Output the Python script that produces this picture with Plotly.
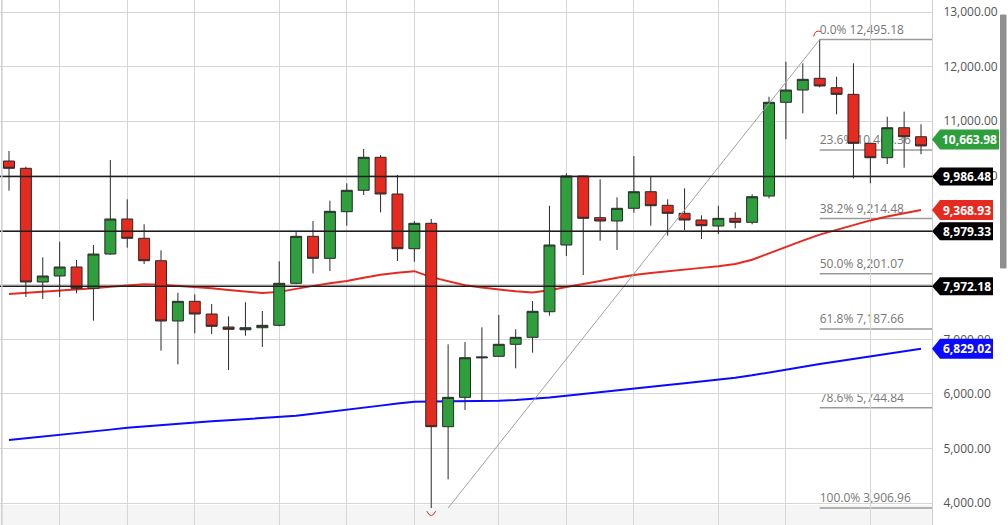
import plotly.graph_objects as go

# ---------------- data ----------------
opens = [10269, 10135, 8051, 8161, 8326, 7935, 8564, 9206, 8852, 8441,
         7336, 7697, 7464, 7226, 7176, 7213, 7257, 8027, 8888, 8485,
         9340, 9732, 10337, 9664, 8661, 9127, 5399, 5937, 6660, 6689,
         6909, 7037, 7506, 8729, 9994, 9230, 9169, 9402, 9706, 9457,
         9310, 9187, 9077, 9218, 9145, 9627, 11345, 11570, 11785, 11612,
         11491, 10593, 10329, 10879, 10714]
highs = [10452, 10164, 8503, 8790, 8454, 8729, 10287, 9567, 9109, 8632,
         7855, 7825, 7648, 7422, 7679, 7519, 8430, 8986, 9169, 9541,
         9860, 10489, 10379, 10012, 9169, 9206, 6909, 6951, 7221, 7446,
         7184, 7703, 9449, 10043, 10000, 9933, 9603, 10360, 9990, 9567,
         9768, 9273, 9449, 9328, 9658, 11447, 12089, 12060, 12495.18, 11814,
         12060, 10600, 11081, 11173, 10942]
lows = [9724, 7776, 7739, 7776, 7843, 7342, 8550, 8680, 8381, 6792,
        6542, 7110, 7098, 6438, 7067, 6859, 7240, 8010, 8210, 8253,
        9083, 9646, 9328, 8436, 8423, 3906.96, 4434, 5705, 5851, 6680,
        6469, 6755, 7433, 8527, 8179, 8808, 8637, 9321, 9083, 8900,
        9004, 8839, 8931, 9035, 9109, 9585, 10667, 11143, 11620, 11125,
        9952, 9860, 10214, 10146, 10392]
closes = [10135, 8051, 8161, 8326, 7935, 8564, 9206, 8852, 8441, 7336,
          7697, 7464, 7239, 7184, 7213, 7257, 8027, 8888, 8485, 9347,
          9732, 10337, 9664, 8661, 9127, 5399, 5937, 6663, 6675, 6909,
          7037, 7514, 8729, 9994, 9218, 9169, 9402, 9706, 9449, 9310,
          9187, 9083, 9218, 9145, 9614, 11345, 11570, 11766, 11644, 11491,
          10593, 10329, 10879, 10714, 10545]

ma_red = [7831, 7850, 7870, 7890, 7910, 7935, 7965, 7990, 8010, 8000,
          7980, 7960, 7935, 7905, 7875, 7850, 7870, 7930, 7980, 8030,
          8070, 8130, 8185, 8220, 8250, 8140, 8060, 7990, 7950, 7915,
          7880, 7860, 7900, 7960, 8010, 8070, 8130, 8180, 8215, 8250,
          8280, 8310, 8340, 8380, 8460, 8580, 8690, 8810, 8920, 9010,
          9100, 9180, 9250, 9310, 9368.93]
ma_blue = [5155, 5185, 5215, 5246, 5280, 5310, 5345, 5380, 5405, 5430,
           5455, 5479, 5497, 5515, 5535, 5553, 5571, 5600, 5635, 5670,
           5705, 5745, 5785, 5825, 5857, 5860, 5863, 5866, 5869, 5875,
           5890, 5906, 5935, 5965, 6000, 6035, 6070, 6102, 6135, 6165,
           6195, 6225, 6255, 6295, 6340, 6395, 6450, 6500, 6550, 6595,
           6640, 6685, 6730, 6775, 6829.02]

month_starts = [3, 7, 11, 16, 20, 24, 29, 33, 37, 42, 46, 51]
y_ticks = [4000, 5000, 6000, 7000, 8000, 9000, 10000, 11000, 12000, 13000]

support_levels = [9986.48, 8979.33, 7972.18]
last_price = 10663.98

fib_start_idx, fib_end_idx = 26, 48
fib_low, fib_high = 3906.96, 12495.18
fib_ratios = [0.0, 0.236, 0.382, 0.5, 0.618, 0.786, 1.0]
fib_values = [12495.18, 10468.36, 9214.48, 8201.07, 7187.66, 5744.84, 3906.96]

low_idx, high_idx = 25, 48

# ---------------- style ----------------
GREEN = "#2f9e3c"
RED = "#e52b1f"
BLUE = "#0a0aff"
FONT = "Open Sans"
W, H = 1008, 525
PLOT_W = 932
X_RANGE = [-0.533, 54.65]
Y_RANGE = [3597, 13220]
px_per_val = H / (Y_RANGE[1] - Y_RANGE[0])

idx = list(range(len(opens)))

fig = go.Figure()

# moving averages on main axes (drawn under candles)
fig.add_trace(go.Scatter(x=idx, y=ma_blue, mode="lines",
                         line=dict(color=BLUE, width=2), hoverinfo="skip"))
fig.add_trace(go.Scatter(x=idx, y=ma_red, mode="lines",
                         line=dict(color=RED, width=2), hoverinfo="skip"))

# candles on overlay axes
fig.add_trace(go.Candlestick(
    x=idx, open=opens, high=highs, low=lows, close=closes,
    xaxis="x2", yaxis="y2",
    increasing=dict(fillcolor=GREEN, line=dict(color="#2a2a2a", width=1)),
    decreasing=dict(fillcolor=RED, line=dict(color="#2a2a2a", width=1)),
    whiskerwidth=0, showlegend=False))

shapes = []

# fib level lines with labels (below traces)
for r, v in zip(fib_ratios, fib_values):
    shapes.append(dict(
        type="line", xref="x", yref="y", x0=fib_end_idx, x1=X_RANGE[1],
        y0=v, y1=v, layer="below", line=dict(color="#9a9a9a", width=1.5),
        label=dict(text=f"{r*100:.1f}% {v:,.2f}", textposition="start",
                   xanchor="left", yanchor="bottom", padding=1,
                   font=dict(family=FONT, size=12, color="#777777"))))

# fib diagonal
shapes.append(dict(type="line", xref="x", yref="y",
                   x0=fib_start_idx, y0=fib_low, x1=fib_end_idx, y1=fib_high,
                   layer="above", line=dict(color="#a0a0a0", width=1)))

# support / resistance lines
for v in support_levels:
    shapes.append(dict(type="line", xref="paper", yref="y", x0=0, x1=1,
                       y0=v, y1=v, layer="above",
                       line=dict(color="#1e1e1e", width=1.5)))

# arcs marking swing low / high
shapes.append(dict(type="path", xref="x", yref="y", xsizemode="pixel",
                   ysizemode="pixel", xanchor=low_idx, yanchor=fib_low,
                   path="M -4.5,-3 Q 0,-12 4.5,-3", layer="above",
                   line=dict(color=RED, width=1)))
shapes.append(dict(type="path", xref="x", yref="y", xsizemode="pixel",
                   ysizemode="pixel", xanchor=high_idx, yanchor=fib_high,
                   path="M -6,3 Q -5,10 1,8", layer="above",
                   line=dict(color=RED, width=1)))

annotations = []


def price_tag(value, color, right_px, half_h):
    hv = half_h / px_per_val
    x_tip = 932 / PLOT_W
    x_sh = 940 / PLOT_W
    x_r = right_px / PLOT_W
    path = (f"M {x_tip},{value} L {x_sh},{value + hv} L {x_r},{value + hv} "
            f"L {x_r},{value - hv} L {x_sh},{value - hv} Z")
    shapes.append(dict(type="path", xref="paper", yref="y", path=path,
                       fillcolor=color, line=dict(color=color, width=0),
                       layer="above"))
    annotations.append(dict(xref="paper", yref="y",
                            x=((940 + right_px) / 2) / PLOT_W, y=value,
                            text=f"<b>{value:,.2f}</b>", showarrow=False,
                            xanchor="center", yanchor="middle",
                            font=dict(family=FONT, size=12, color="white")))


price_tag(last_price, GREEN, 999, 10)
for v in support_levels:
    price_tag(v, "#000000", 993, 9)
price_tag(ma_red[-1], RED, 993, 10)
price_tag(ma_blue[-1], BLUE, 993, 10)

# left border, bottom fade
shapes.append(dict(type="line", xref="paper", yref="paper", x0=0.002, x1=0.002,
                   y0=0, y1=1, line=dict(color="#cfcfcf", width=1.5), layer="above"))
shapes.append(dict(type="rect", xref="paper", yref="paper", x0=0, x1=1,
                   y0=0, y1=20 / H, fillcolor="rgba(200,200,200,0.18)",
                   line=dict(width=0), layer="below"))

# scrollbar thumb at right edge (path in paper coords)
sx0, sx1 = 1000.5 / PLOT_W, 1006 / PLOT_W
sy0, sy1 = 1 - 268 / H, 1 - 15 / H
shapes.append(dict(type="path", xref="paper", yref="paper",
                   path=f"M {sx0},{sy0} L {sx1},{sy0} L {sx1},{sy1} L {sx0},{sy1} Z",
                   fillcolor="#8f8f8f", line=dict(color="#8f8f8f", width=1),
                   layer="above"))

fig.update_layout(
    width=W, height=H,
    margin=dict(l=0, r=W - PLOT_W, t=0, b=0),
    paper_bgcolor="white", plot_bgcolor="white",
    showlegend=False,
    boxgap=0.35, boxgroupgap=0,
    font=dict(family=FONT, size=12, color="#555555"),
    xaxis=dict(range=X_RANGE, tickvals=month_starts, showticklabels=False,
               showgrid=True, gridcolor="#d6d6d6", gridwidth=1,
               zeroline=False, showline=False, fixedrange=True),
    yaxis=dict(range=Y_RANGE, side="right", tickvals=y_ticks,
               tickformat=",.2f", showgrid=True, gridcolor="#d6d6d6",
               gridwidth=1, zeroline=False, showline=True, linecolor="#cfcfcf",
               linewidth=1, ticks="", ticklabelstandoff=8,
               tickfont=dict(family=FONT, size=12, color="#555555")),
    xaxis2=dict(range=X_RANGE, overlaying="x", visible=False,
                rangeslider=dict(visible=False)),
    yaxis2=dict(range=Y_RANGE, overlaying="y", visible=False),
    shapes=shapes, annotations=annotations,
)

fig.write_html("out.html")
